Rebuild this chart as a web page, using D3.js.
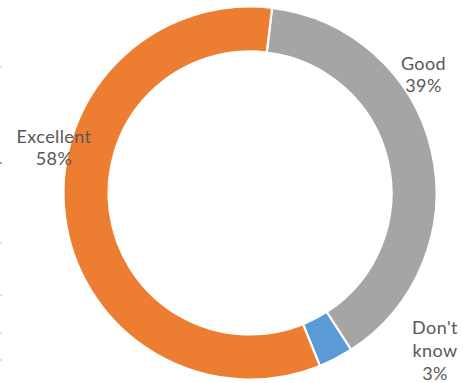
<!DOCTYPE html>
<html>
<head>
<meta charset="utf-8">
<script src="https://cdn.jsdelivr.net/npm/d3@7"></script>
<style>
  html, body { margin: 0; padding: 0; background: #ffffff; }
  svg { display: block; }
</style>
</head>
<body>
<svg id="chart" width="463" height="383"></svg>
<script>
// Survey answers, in drawing order (clockwise from just right of 12 o'clock)
const categories = ["Good", "Don't know", "Excellent"];
const shares = [39, 3, 58];
const labelLines = [["Good", "39%"], ["Don't", "know", "3%"], ["Excellent", "58%"]];

const colors = ["#a5a5a5", "#5b9bd5", "#ed7d31"];

const svg = d3.select("#chart");
const cx = 250, cy = 193;
const outerR = 186.5, innerR = 141.5;
const start = 6.8 * Math.PI / 180;

// faint remnants along the left edge
const edgeMarks = [67, 163, 243, 295, 333, 360];
svg.append("g").selectAll("line").data(edgeMarks).join("line")
  .attr("x1", 0).attr("x2", 2)
  .attr("y1", d => d).attr("y2", d => d)
  .attr("stroke", (d, i) => i === 1 ? "#444" : "#bbb")
  .attr("stroke-width", 1.2);

const data = categories.map((c, i) => ({ name: c, value: shares[i], color: colors[i], lines: labelLines[i] }));

const pie = d3.pie()
  .sort(null)
  .value(d => d.value)
  .startAngle(start)
  .endAngle(start + 2 * Math.PI);

const arc = d3.arc().innerRadius(innerR).outerRadius(outerR);

const g = svg.append("g").attr("transform", `translate(${cx},${cy})`);

g.selectAll("path")
  .data(pie(data))
  .join("path")
  .attr("d", arc)
  .attr("fill", d => d.data.color)
  .attr("stroke", "#ffffff")
  .attr("stroke-width", 2.2)
  .attr("stroke-linejoin", "miter");

// label anchors (centre x, first baseline y, line step)
const labelPlace = {
  "Good": [423.5, 69.5, 22.5],
  "Don't know": [435, 333.5, 23],
  "Excellent": [54, 142.5, 22.5]
};

const labels = svg.append("g")
  .attr("font-family", "Lato, 'Open Sans', sans-serif")
  .attr("font-size", 18)
  .attr("letter-spacing", 0.4)
  .attr("fill", "#585858")
  .attr("text-anchor", "middle");

data.forEach(d => {
  const [x, y, step] = labelPlace[d.name];
  const t = labels.append("text").attr("x", x).attr("y", y);
  d.lines.forEach((ln, i) => {
    t.append("tspan").attr("x", x).attr("y", y + i * step).text(ln);
  });
});
</script>
</body>
</html>
